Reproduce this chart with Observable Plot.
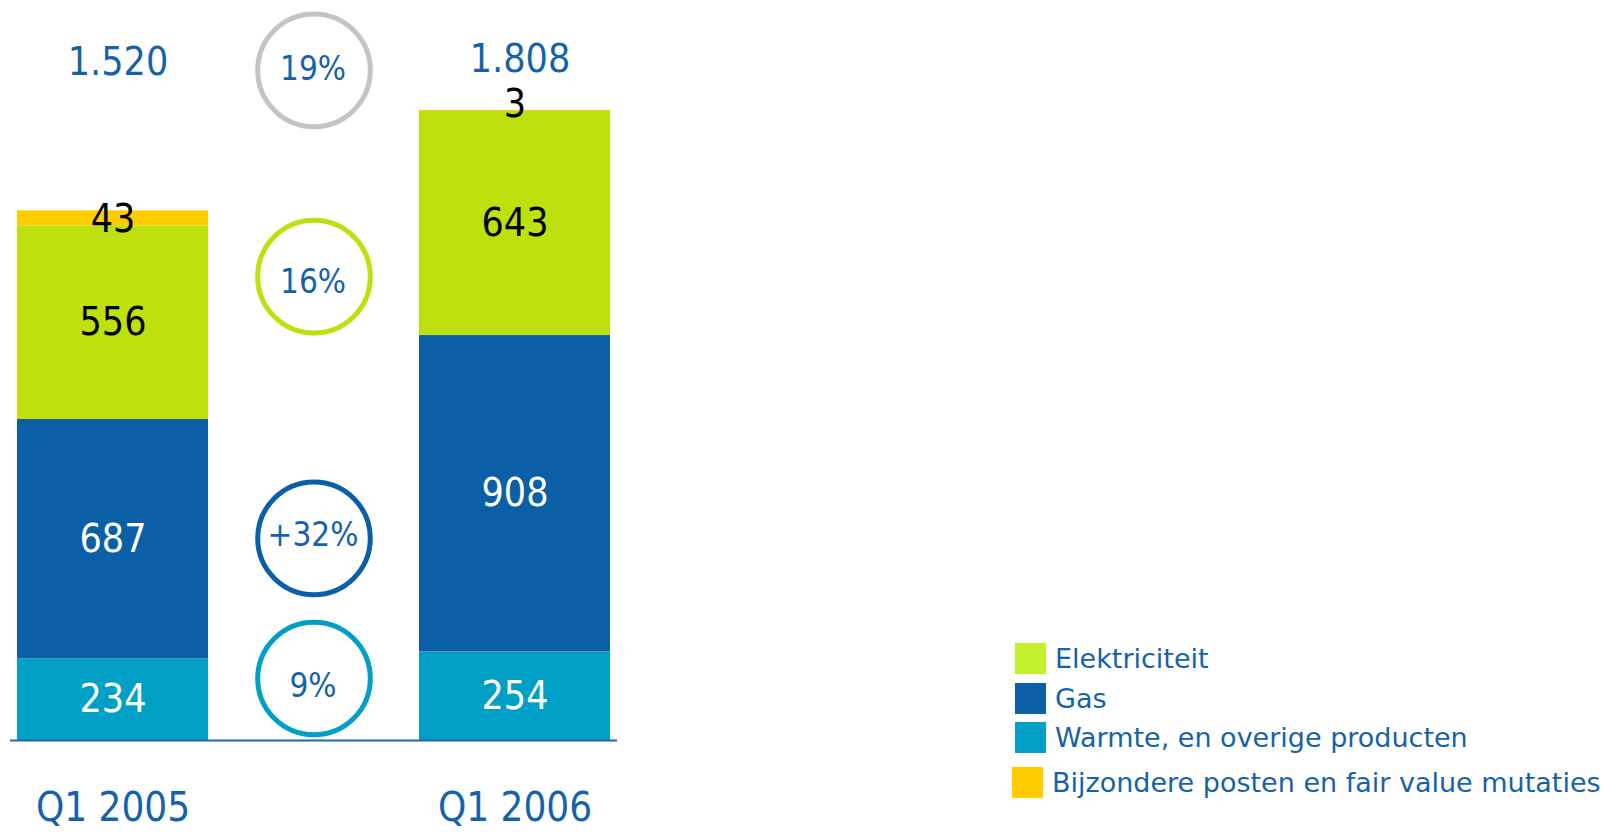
<!DOCTYPE html>
<html>
<head>
<meta charset="utf-8">
<script src="https://cdn.jsdelivr.net/npm/d3@7"></script>
<script src="https://cdn.jsdelivr.net/npm/@observablehq/plot@0.6"></script>
<style>
  html, body { margin: 0; padding: 0; background: #ffffff; }
  #wrap { position: relative; width: 1603px; height: 832px; overflow: hidden;
          font-family: "DejaVu Sans Condensed", "DejaVu Sans", sans-serif; font-stretch: condensed; }
  #legend { position: absolute; left: 0; top: 0; font-family: "DejaVu Sans", sans-serif; font-stretch: normal; }
  .item { position: absolute; display: flex; align-items: center; white-space: nowrap;
          font-size: 27px; color: #1562ab; }
  .sw { width: 31px; height: 31px; margin-right: 9px; flex: none; }
</style>
</head>
<body>
<div id="wrap"><div id="chart"></div><div id="legend"></div></div>
<script>
// ---- data ----
const periods = ["Q1 2005", "Q1 2006"];
const categories = ["Warmte, en overige producten", "Gas", "Elektriciteit", "Bijzondere posten en fair value mutaties"];
const warmte = [234, 254];
const gas = [687, 908];
const elektriciteit = [556, 643];
const bijzonder = [43, 3];
const totalLabels = ["1.520", "1.808"];
const growthKeys = ["totaal", "Elektriciteit", "Gas", "Warmte, en overige producten"];
const growthLabels = ["19%", "16%", "+32%", "9%"];

// ---- styling / layout ----
const colors = {
  "Warmte, en overige producten": "#00a0c6",
  "Gas": "#0b5fa6",
  "Elektriciteit": "#bee10d",
  "Bijzondere posten en fair value mutaties": "#ffcc00"
};
const legendColors = {
  "Warmte, en overige producten": "#00a0c6",
  "Gas": "#0b5fa6",
  "Elektriciteit": "#c2f02c",
  "Bijzondere posten en fair value mutaties": "#ffcc00"
};
const ringColors = {"totaal": "#c4c4c4", "Elektriciteit": "#bee10d", "Gas": "#0b5fa6", "Warmte, en overige producten": "#00a0c6"};
const ringLevels = {"totaal": 1923, "Elektriciteit": 1331, "Gas": 580, "Warmte, en overige producten": 178};
const ringTextShift = {"totaal": -1, "Elektriciteit": 6, "Gas": -3, "Warmte, en overige producten": 8};
const labelInk = {"Warmte, en overige producten": "white", "Gas": "white", "Elektriciteit": "black", "Bijzondere posten en fair value mutaties": "black"};
const MID = "Δ";
const blue = "#1562ab";
const font = "'DejaVu Sans Condensed', 'DejaVu Sans', sans-serif";

// ---- build table ----
const series = {
  "Warmte, en overige producten": warmte,
  "Gas": gas,
  "Elektriciteit": elektriciteit,
  "Bijzondere posten en fair value mutaties": bijzonder
};
const rows = [];
periods.forEach((p, i) => {
  let acc = 0;
  for (const c of categories) {
    const v = series[c][i];
    rows.push({period: p, cat: c, value: v, y1: acc, y2: acc + v, mid: acc + v / 2});
    acc += v;
  }
});
const totals = periods.map((p, i) => ({period: p, label: totalLabels[i]}));
const growth = growthKeys.map((k, i) => ({key: k, label: growthLabels[i], level: ringLevels[k]}));

const plot = Plot.plot({
  width: 1603,
  height: 832,
  marginTop: 43,
  marginBottom: 92,
  marginLeft: 10,
  marginRight: 986,
  style: {fontFamily: font, background: "white", fontStretch: "condensed"},
  x: {domain: [periods[0], MID, periods[1]], paddingInner: 0.0486, paddingOuter: 0.027, align: 0.5, axis: null},
  y: {domain: [0, 2000], axis: null},
  color: {domain: categories, range: categories.map(c => colors[c])},
  marks: [
    Plot.barY(rows, {x: "period", y1: "y1", y2: "y2", fill: "cat"}),
    Plot.ruleY([0], {stroke: "#2466b0", strokeWidth: 2}),
    // segment labels
    ...categories.slice(0, 3).map(c => Plot.text(rows.filter(r => r.cat === c), {
      x: "period", y: "mid", text: d => String(d.value),
      fill: labelInk[c], fontSize: 39
    })),
    Plot.text(rows.filter(r => r.cat === categories[3] && r.value >= 10), {
      x: "period", y: "mid", text: d => String(d.value), fill: "black", fontSize: 39, dy: 1
    }),
    Plot.text(rows.filter(r => r.cat === categories[3] && r.value < 10), {
      x: "period", y: "mid", text: d => String(d.value), fill: "black", fontSize: 39, dy: -6
    }),
    // totals
    Plot.text(totals.slice(0, 1), {x: "period", frameAnchor: "top", dy: 4, dx: 5, text: "label", fill: blue, fontSize: 39}),
    Plot.text(totals.slice(1), {x: "period", frameAnchor: "top", dy: 1, dx: 5, text: "label", fill: blue, fontSize: 39}),
    // growth rings
    ...growth.map(g => Plot.dot([g], {x: () => MID, y: "level", r: 56.3, stroke: ringColors[g.key], strokeWidth: 5, fill: "white"})),
    ...growth.map(g => Plot.text([g], {x: () => MID, y: "level", text: "label", fill: blue, fontSize: 33, dx: -1, dy: ringTextShift[g.key]})),
    // axis
    Plot.axisX({ticks: periods, tickSize: 0, tickPadding: 52, fontSize: 40, color: blue, label: null})
  ]
});
document.getElementById("chart").appendChild(plot);

// ---- legend ----
const legendOrder = ["Elektriciteit", "Gas", "Warmte, en overige producten", "Bijzondere posten en fair value mutaties"];
const legendPos = {
  "Elektriciteit": [1015, 643],
  "Gas": [1015, 683],
  "Warmte, en overige producten": [1015, 722],
  "Bijzondere posten en fair value mutaties": [1012, 767]
};
const leg = document.getElementById("legend");
legendOrder.forEach(c => {
  const it = document.createElement("div");
  it.className = "item";
  it.style.left = legendPos[c][0] + "px";
  it.style.top = legendPos[c][1] + "px";
  const sw = document.createElement("span");
  sw.className = "sw";
  sw.style.background = legendColors[c];
  const tx = document.createElement("span");
  tx.textContent = c;
  it.appendChild(sw);
  it.appendChild(tx);
  leg.appendChild(it);
});
</script>
</body>
</html>
